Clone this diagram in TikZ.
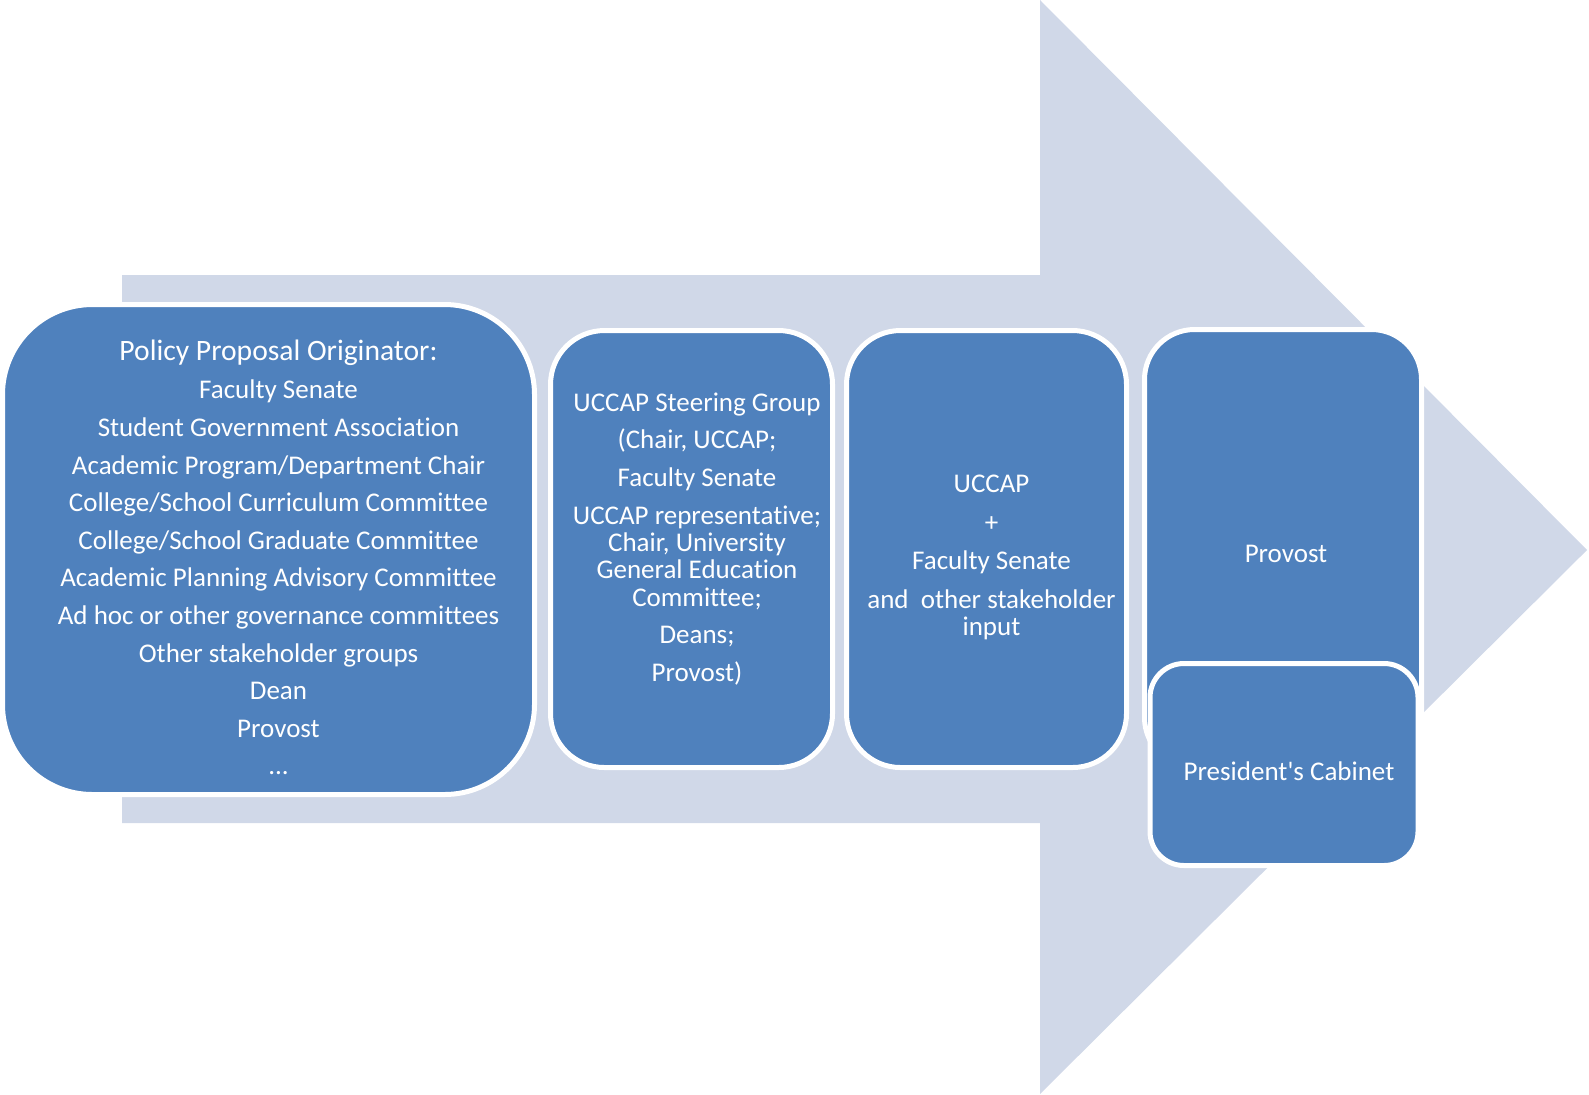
\documentclass[tikz,border=0pt]{standalone}
\usepackage{fontspec}
\setmainfont{Carlito}[Ligatures=NoCommon]
\usetikzlibrary{calc}
\definecolor{stage-blue}{HTML}{4F81BD}
\definecolor{arrow-grey}{HTML}{D0D8E8}
\tikzset{
    my-stage/.style={
        draw=white, line width=2.5pt, fill=stage-blue, rounded corners=27pt, inner sep=0pt
    },
    my-stage-text/.style={
        text=white, align=center, inner sep=0pt, font=\fontsize{13.5}{13.6}\selectfont
    },
}

\begin{document}
\begin{tikzpicture}[x=0.5pt, y=-0.5pt]

        \useasboundingbox (0,0) rectangle (1589,1094);

        % BACKGROUND ARROW
        \coordinate (TAILTOP) at (122,275);
        \coordinate (TAILBOT) at (122,823);
        \coordinate (HEADTOP) at (1040,0);
        \coordinate (HEADBOT) at (1040,1094);
        \coordinate (TIP)     at (1587,550);
        \fill[arrow-grey] (TAILTOP) -- (TAILTOP -| HEADTOP) -- (HEADTOP) -- (TIP)
                          -- (HEADBOT) -- (TAILBOT -| HEADBOT) -- (TAILBOT) -- cycle;

        % STAGE BOXES
        \node[my-stage, minimum width=266pt, minimum height=245pt, rounded corners=45pt] (ORIGINATOR) at (268.5,549.5) {};
        \node[my-stage, minimum width=141pt, minimum height=218.5pt] (STEERING) at (691.5,549)   {};
        \node[my-stage, minimum width=140pt, minimum height=218.5pt] (UCCAP)    at (986.5,549)   {};
        \node[my-stage, minimum width=138.5pt, minimum height=219pt, rounded corners=25pt] (PROVOST) at (1283,548.5) {};
        \node[my-stage, minimum width=134pt, minimum height=101pt, rounded corners=17pt] (CABINET) at (1284,764.5) {};

        % BOX TEXTS
        \node[my-stage-text] (ORIGINATORTXT) at ($(ORIGINATOR) + (10,8)$) {%
            {\fontsize{14.8}{15}\selectfont Policy Proposal Originator:}\\[5.7pt]
            Faculty Senate\\[5.2pt]
            Student Government Association\\[5.2pt]
            Academic Program/Department Chair\\[5.2pt]
            College/School Curriculum Committee\\[5.2pt]
            College/School Graduate Committee\\[5.2pt]
            Academic Planning Advisory Committee\\[5.2pt]
            Ad hoc or other governance committees\\[5.2pt]
            Other stakeholder groups\\[5.2pt]
            Dean\\[5.2pt]
            Provost\\[5.2pt]
            ...};
        \node[my-stage-text] (STEERINGTXT) at ($(STEERING) + (5.5,-10)$) {%
            UCCAP Steering Group\\[5.3pt]
            (Chair, UCCAP;\\[5.3pt]
            Faculty Senate\\[5.3pt]
            UCCAP representative;\\
            Chair, University\\
            General Education\\
            Committee;\\[5.3pt]
            Deans;\\[5.3pt]
            Provost)};
        \node[my-stage-text] (UCCAPTXT) at ($(UCCAP) + (5,8.5)$) {%
            UCCAP\\[5.6pt]
            +\\[5.6pt]
            Faculty Senate\\[5.6pt]
            and~~other stakeholder\\
            input};
        \node[my-stage-text] (PROVOSTTXT) at ($(PROVOST) + (3,5.5)$)  {Provost};
        \node[my-stage-text] (CABINETTXT) at ($(CABINET) + (5,6.5)$) {President\textquotesingle s Cabinet};

\end{tikzpicture}
\end{document}
